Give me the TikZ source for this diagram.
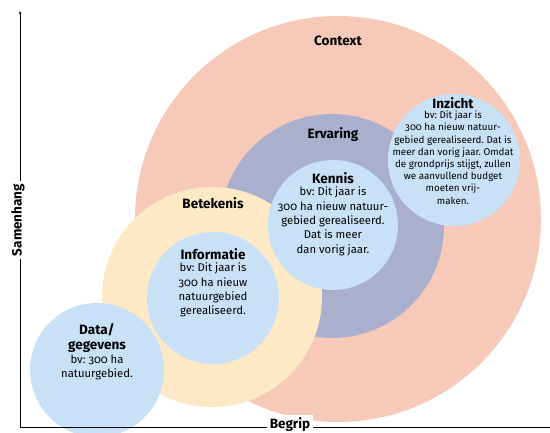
\documentclass[tikz,border=0pt]{standalone}
\usepackage{fontspec}
\setmainfont[Numbers=OldStyle]{Fira Sans}
\usepackage{tikz}
\usetikzlibrary{positioning,arrows}
\frenchspacing
\definecolor{contextcol}{HTML}{F7C9B9}
\definecolor{ervaringcol}{HTML}{AAAFCD}
\definecolor{betekeniscol}{HTML}{FDE9C5}
\definecolor{kenniscol}{HTML}{C9E1F6}
\tikzstyle{bol} = [circle,inner sep=0pt]
\tikzstyle{titel} = [font=\fontsize{13.5}{15}\selectfont\bfseries,inner sep=0pt]
\tikzstyle{tekst} = [font=\fontsize{11.3}{14.3}\selectfont,align=center,inner sep=0pt]
\tikzstyle{klein} = [font=\fontsize{9.8}{12.2}\selectfont,align=center,inner sep=0pt]
\tikzstyle{as} = [thin,->,>=stealth]

\begin{document}
\begin{tikzpicture}[x=1pt,y=-1pt]
    \useasboundingbox (0,0) rectangle (550,432);
    % cirkels
    \node[bol,fill=contextcol,minimum size=406pt] (context) at (338,219) {};
    \node[bol,fill=ervaringcol,minimum size=224pt] (ervaring) at (332,226) {};
    \node[bol,fill=betekeniscol,minimum size=220pt] (betekenis) at (212,297) {};
    \node[bol,fill=kenniscol,minimum size=132pt] (informatie) at (213,298) {};
    \node[bol,fill=kenniscol,minimum size=130pt] (kennis) at (333,225) {};
    \node[bol,fill=kenniscol,minimum size=132pt] (inzicht) at (454,160) {};
    \node[bol,fill=kenniscol,minimum size=134pt] (data) at (97,370) {};
    % teksten
    \node[titel] (contexttitel) at (338,41) {Context};
    \node[titel] (ervaringtitel) at (333,135) {Ervaring};
    \node[titel] (betekenistitel) at (213,203) {Betekenis};
    \node[titel] (kennistitel) at (333,178) {Kennis};
    \node[tekst,below=3pt of kennistitel] (kennistekst) {bv: Dit jaar is\\300 ha nieuw natuur-\\gebied gerealiseerd.\\Dat is meer\\dan vorig jaar.};
    \node[titel] (inzichttitel) at (453,103) {Inzicht};
    \node[klein,below=2pt of inzichttitel] (inzichttekst) {bv: Dit jaar is\\300 ha nieuw natuur-\\gebied gerealiseerd. Dat is\\meer dan vorig jaar. Omdat\\de grondprijs stijgt, zullen\\we aanvullend budget\\moeten vrij-\\maken.};
    \node[titel] (informatietitel) at (213,254) {Informatie};
    \node[tekst,below=3pt of informatietitel] (informatietekst) {bv: Dit jaar is\\300 ha nieuw\\natuurgebied\\gerealiseerd.};
    \node[titel,align=center] (datatitel) at (97,338) {Data/\\gegevens};
    \node[tekst,below=2pt of datatitel] (datatekst) {bv: 300 ha\\natuurgebied.};
    % assen
    \coordinate (oorsprong) at (20,427);
    \coordinate (boven) at (20,11);
    \coordinate (rechts) at (556,427);
    \draw[as] (oorsprong) -- (boven);
    \draw (oorsprong) -- (rechts);
    \node[titel,fill=white,inner sep=3pt,rotate=90] (samenhang) at (18,220) {Samenhang};
    \node[titel,fill=white,inner sep=3pt] (begrip) at (290,425) {Begrip};
\end{tikzpicture}
\end{document}
